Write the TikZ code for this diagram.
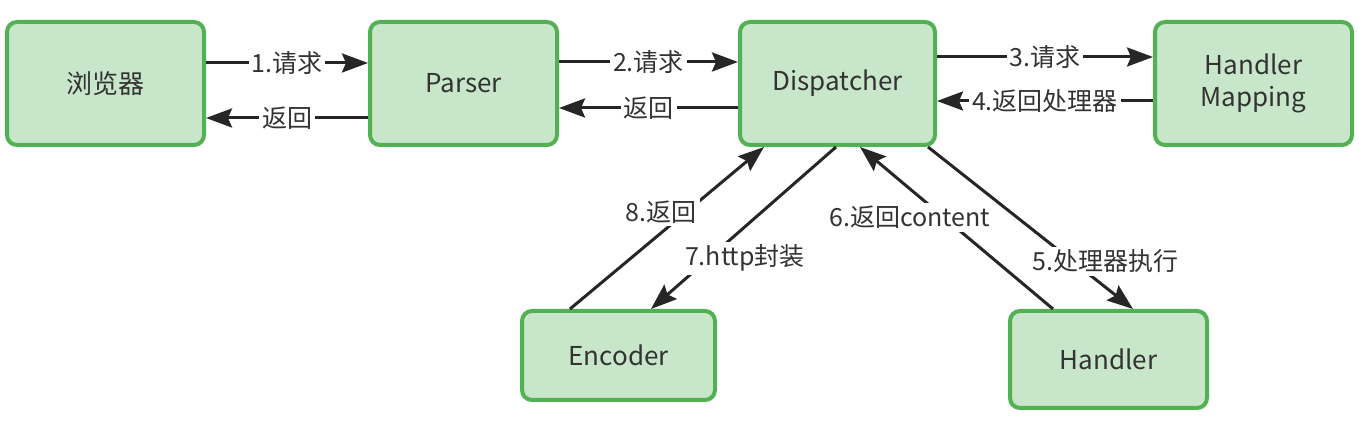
\documentclass[tikz,border=0pt]{standalone}
\usepackage{fontspec}
\setmainfont{Noto Sans CJK SC}
\usepackage{tikz}
\usetikzlibrary{positioning, arrows.meta}
\definecolor{boxgreen}{HTML}{52B152}
\definecolor{boxfill}{HTML}{C8E6C9}
\definecolor{txt}{HTML}{333333}
\tikzstyle{box} = [draw=boxgreen, line width=2pt, fill=boxfill, rounded corners=5pt, text=txt, align=center, font=\fontsize{13}{16}\selectfont]
\tikzstyle{arrow} = [line width=1.5pt, draw=black!85, -{Stealth[length=13pt,width=9.5pt,inset=2pt]}]
\tikzstyle{lbl} = [fill=white, inner sep=1.5pt, text=txt, font=\fontsize{12.5}{15}\selectfont]

\begin{document}
\begin{tikzpicture}[x=0.5pt, y=-0.5pt]
        \useasboundingbox (0,0) rectangle (1367,431);
        % top row
        \node[box, minimum width=98.5pt, minimum height=61.5pt] (browser) at (105.5,83.5) {浏览器};
        \node[box, minimum width=93.5pt, minimum height=61.5pt] (parser) at (463.5,83.5) {Parser};
        \node[box, minimum width=97.5pt, minimum height=61.5pt] (disp) at (837.5,83.5) {Dispatcher};
        \node[box, minimum width=98.5pt, minimum height=61.5pt] (hmap) at (1253.5,83.5) {Handler\\Mapping};
        % bottom row
        \node[box, minimum width=96.5pt, minimum height=44.5pt] (enc) at (618.5,355.5) {Encoder};
        \node[box, minimum width=98.5pt, minimum height=48.5pt] (hdl) at (1108.5,359.5) {Handler};

        \draw[arrow] ([yshift=10.25pt]browser.east) -- node[lbl]{1.请求} ([yshift=10.25pt]parser.west);
        \draw[arrow] ([yshift=-17.25pt]parser.west) -- node[lbl]{返回} ([yshift=-17.25pt]browser.east);
        \draw[arrow] ([yshift=10.75pt]parser.east) -- node[lbl]{2.请求} ([yshift=10.75pt]disp.west);
        \draw[arrow] ([yshift=-12.25pt]disp.west) -- node[lbl]{返回} ([yshift=-12.25pt]parser.east);
        \draw[arrow] ([yshift=13.25pt]disp.east) -- node[lbl]{3.请求} ([yshift=13.25pt]hmap.west);
        \draw[arrow] ([yshift=-8.75pt]hmap.west) -- node[lbl]{4.返回处理器} ([yshift=-8.75pt]disp.east);

        \draw[arrow] ([xshift=45.25pt]disp.south) -- node[lbl, pos=0.705, xshift=16.5pt]{5.处理器执行} ([xshift=12.25pt]hdl.north);
        \draw[arrow] ([xshift=-27.75pt]hdl.north) -- node[lbl, pos=0.566, xshift=-17pt]{6.返回content} ([xshift=11.25pt]disp.south);
        \draw[arrow] ([xshift=-0.75pt]disp.south) -- node[lbl, pos=0.687, xshift=18pt]{7.http封装} ([xshift=16.25pt]enc.north);
        \draw[arrow] ([xshift=-24.25pt]enc.north) -- node[lbl, pos=0.6, xshift=-12.5pt]{8.返回} ([xshift=-36.75pt]disp.south);
\end{tikzpicture}
\end{document}
